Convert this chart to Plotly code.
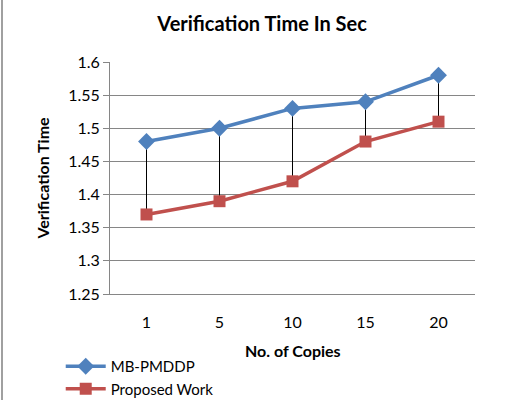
import plotly.graph_objects as go

categories = ["1", "5", "10", "15", "20"]
mb_pmddp = [1.48, 1.50, 1.53, 1.54, 1.58]
proposed = [1.37, 1.39, 1.42, 1.48, 1.51]
y_ticks = [1.25, 1.3, 1.35, 1.4, 1.45, 1.5, 1.55, 1.6]
y_tick_labels = ["1.25", "1.3", "1.35", "1.4", "1.45", "1.5", "1.55", "1.6"]

FONT = "Lato, 'Open Sans', sans-serif"

# high-low drop lines built from the data
hx, hy = [], []
for c, a, b in zip(categories, mb_pmddp, proposed):
    hx += [c, c, None]
    hy += [a, b, None]

fig = go.Figure()
fig.add_trace(go.Scatter(x=hx, y=hy, mode="lines", line=dict(color="black", width=1),
                         showlegend=False, hoverinfo="skip"))
fig.add_trace(go.Scatter(x=categories, y=mb_pmddp, mode="lines+markers", name="MB-PMDDP",
                         line=dict(color="#4F81BD", width=3.5),
                         marker=dict(symbol="diamond", size=13, color="#4F81BD")))
fig.add_trace(go.Scatter(x=categories, y=proposed, mode="lines+markers", name="Proposed Work",
                         line=dict(color="#C0504D", width=3.5),
                         marker=dict(symbol="square", size=12, color="#C0504D")))

fig.update_layout(
    width=519, height=400,
    margin=dict(l=110, r=44, t=62, b=106, autoexpand=False),
    paper_bgcolor="white", plot_bgcolor="white",
    font=dict(family=FONT, size=16, color="black"),
    title=dict(text="<b>Verification Time In Sec</b>", x=0.505, xanchor="center",
               y=0.94, yanchor="middle", font=dict(size=20, family=FONT)),
    xaxis=dict(type="category", range=[-0.5, 4.5], showgrid=False, showline=True,
               linecolor="#868686", linewidth=1, ticks="", ticklabelstandoff=14),
    yaxis=dict(range=[1.25, 1.6], tickvals=y_ticks, ticktext=y_tick_labels,
               showgrid=True, gridcolor="#868686", gridwidth=1,
               showline=True, linecolor="#868686", linewidth=1,
               ticks="outside", ticklen=6, tickcolor="#868686",
               zeroline=False,
               title=dict(text="<b>Verification Time</b>", standoff=14, font=dict(size=16))),
    legend=dict(x=-0.135, xanchor="left", y=1 - 350 / 400, yref="container", yanchor="top",
                bgcolor="rgba(0,0,0,0)", tracegroupgap=0, itemwidth=40,
                font=dict(size=15, family=FONT)),
    annotations=[dict(text="<b>No. of Copies</b>", xref="paper", yref="paper",
                      x=0.5, y=(294 - 350) / 232, xanchor="center", yanchor="middle",
                      showarrow=False, font=dict(size=16, family=FONT))],
    shapes=[dict(type="line", xref="paper", yref="paper",
                 x0=(2 - 110) / 365, x1=(2 - 110) / 365, y0=-0.46, y1=1.27,
                 line=dict(color="#A0A0A0", width=2))],
)

fig.write_html("out.html")
